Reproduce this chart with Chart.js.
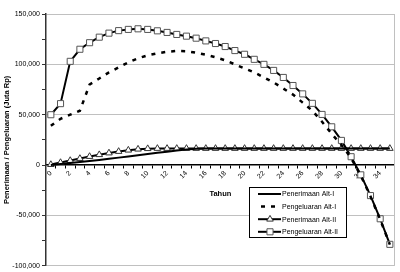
<!DOCTYPE html>
<html>
<head>
<meta charset="utf-8">
<script src="https://cdn.jsdelivr.net/npm/chart.js@4/dist/chart.umd.min.js"></script>
<style>
  html, body { margin: 0; padding: 0; background: #fff; }
  #wrap { width: 400px; height: 272px; }
</style>
</head>
<body>
<div id="wrap"><canvas id="chart"></canvas></div>
<script>
let years = ["0", "1", "2", "3", "4", "5", "6", "7", "8", "9", "10", "11",
    "12", "13", "14", "15", "16", "17", "18", "19", "20", "21", "22", "23",
    "24", "25", "26", "27", "28", "29", "30", "31", "32", "33", "34", "35"];

let penerimaanAlt1 = [0, 1000, 2000, 3000, 4000, 5000, 6200, 7400, 8600, 9800, 11000, 12200,
    13300, 14400, 15400, 16200, 16500, 16500, 16500, 16500, 16500, 16500, 16500, 16500,
    16500, 16500, 16500, 16500, 16500, 16500, 16500, 16500, 16500, 16500, 16500, 16500];

let pengeluaranAlt1 = [39000, 46000, 50000, 54000, 80000, 86000, 92000, 97000, 102000, 106000, 109000, 111000,
    112500, 113300, 113000, 111500, 109500, 107000, 104000, 100000, 96000, 92000, 87000, 82000,
    76000, 70000, 62000, 54000, 43000, 31000, 20000, 7000, -10500, -31000, -54000, -79000];

let penerimaanAlt2 = [500, 2500, 4500, 6500, 8500, 10300, 12000, 13500, 14800, 15800, 16300, 16500,
    16500, 16500, 16500, 16500, 16500, 16500, 16500, 16500, 16500, 16500, 16500, 16500,
    16500, 16500, 16500, 16500, 16500, 16500, 16500, 16500, 16500, 16500, 16500, 16500];

let pengeluaranAlt2 = [50000, 61000, 103000, 115000, 121500, 127000, 131000, 133500, 134700, 135300, 134700, 133300,
    131700, 129700, 128000, 126000, 123300, 120700, 117700, 113700, 110000, 105000, 100000, 94000,
    87000, 79000, 70700, 61300, 50300, 38000, 24500, 8300, -9700, -30300, -53300, -78700];

let seriesNames = ["Penerimaan Alt-I", "Pengeluaran Alt-I", "Penerimaan Alt-II", "Pengeluaran Alt-II"];

let fontFamily = "'Liberation Sans', Arial, sans-serif";

// legend box drawn inside the plot, like the original
let boxLegend = {
    id: "boxLegend",
    beforeDatasetsDraw(chart) {
        let ctx = chart.ctx;
        let area = chart.chartArea;
        ctx.save();
        ctx.strokeStyle = "#c0c0c0";
        ctx.lineWidth = 1;
        ctx.beginPath();
        ctx.moveTo(Math.round(area.right) - 0.5, area.top);
        ctx.lineTo(Math.round(area.right) - 0.5, area.bottom);
        ctx.stroke();
        ctx.restore();
    },
    afterDraw(chart) {
        let ctx = chart.ctx;
        ctx.save();
        ctx.fillStyle = "#fff";
        ctx.fillRect(249.5, 187.5, 97, 50);
        ctx.strokeStyle = "#000";
        ctx.lineWidth = 1;
        ctx.strokeRect(249.5, 187.5, 97, 50);
        chart.data.datasets.forEach((ds, i) => {
            let y = 194 + i * 12.6;
            ctx.strokeStyle = ds.borderColor;
            ctx.lineWidth = ds.borderWidth;
            ctx.setLineDash(ds.borderDash || []);
            ctx.beginPath();
            if (ds.borderDash) {
                ctx.moveTo(261, y);
                ctx.lineTo(278, y);
            } else {
                ctx.moveTo(258, y);
                ctx.lineTo(281, y);
            }
            ctx.stroke();
            ctx.setLineDash([]);
            if (ds.pointRadius > 0 && Chart.helpers && Chart.helpers.drawPoint) {
                ctx.fillStyle = ds.pointBackgroundColor;
                ctx.strokeStyle = ds.pointBorderColor;
                ctx.lineWidth = ds.pointBorderWidth;
                Chart.helpers.drawPoint(ctx, {
                    pointStyle: ds.pointStyle,
                    radius: ds.pointRadius,
                    borderWidth: ds.pointBorderWidth,
                    rotation: 0
                }, 270, y);
            }
            ctx.fillStyle = "#000";
            ctx.font = "7px " + fontFamily;
            ctx.textBaseline = "middle";
            ctx.textAlign = "left";
            ctx.fillText(ds.label, 282, y + 0.5);
        });
        ctx.restore();
    }
};

let ctx = document.getElementById("chart").getContext("2d");
let chart = new Chart(ctx, {
    type: "line",
    data: {
        labels: years,
        datasets: [{
            label: seriesNames[0],
            data: penerimaanAlt1,
            borderColor: "#000",
            borderWidth: 2,
            pointRadius: 0,
            tension: 0
        },
        {
            label: seriesNames[1],
            data: pengeluaranAlt1,
            borderColor: "#000",
            borderWidth: 2.5,
            borderDash: [4, 6],
            pointRadius: 0,
            tension: 0
        },
        {
            label: seriesNames[2],
            data: penerimaanAlt2,
            borderColor: "#000",
            borderWidth: 2,
            pointStyle: "triangle",
            pointRadius: 3.8,
            pointBackgroundColor: "#fff",
            pointBorderColor: "#333",
            pointBorderWidth: 1,
            tension: 0
        },
        {
            label: seriesNames[3],
            data: pengeluaranAlt2,
            borderColor: "#000",
            borderWidth: 2,
            pointStyle: "rect",
            pointRadius: 4.3,
            pointBackgroundColor: "#fff",
            pointBorderColor: "#555",
            pointBorderWidth: 1,
            tension: 0
        }]
    },
    options: {
        responsive: true,
        maintainAspectRatio: false,
        animation: false,
        devicePixelRatio: 1,
        layout: {
            padding: { top: 14, right: 3, bottom: -29, left: 0 }
        },
        plugins: {
            legend: { display: false },
            tooltip: { enabled: false }
        },
        scales: {
            x: {
                type: "category",
                position: { y: 0 },
                offset: true,
                afterFit: (scale) => { scale.height = 37; },
                ticks: {
                    autoSkip: false,
                    maxRotation: 45,
                    minRotation: 45,
                    padding: 1,
                    color: "#000",
                    font: { family: fontFamily, size: 7 },
                    callback: function (value, index) {
                        return index % 2 === 0 ? this.getLabelForValue(value) : "";
                    }
                },
                grid: {
                    offset: true,
                    drawOnChartArea: false,
                    tickLength: 3,
                    tickColor: "#000"
                },
                border: { color: "#000", width: 1.5 },
                title: {
                    display: true,
                    text: "Tahun",
                    color: "#000",
                    padding: { top: 2, bottom: 4 },
                    font: { family: fontFamily, size: 7.5, weight: "bold" }
                }
            },
            y: {
                min: -100000,
                max: 150000,
                afterFit: (scale) => { scale.width = 46; },
                ticks: {
                    stepSize: 25000,
                    autoSkip: false,
                    padding: 2,
                    color: "#000",
                    font: { family: fontFamily, size: 7 },
                    callback: (value) => value % 50000 === 0 ? value.toLocaleString("en-US") : ""
                },
                grid: {
                    color: (c) => (c.tick && c.tick.value % 50000 === 0 && c.tick.value !== 0) ? "#c0c0c0" : "rgba(0,0,0,0)",
                    tickColor: "#333",
                    tickLength: 4,
                    lineWidth: 1
                },
                border: { color: "#333", width: 1.5 },
                title: {
                    display: true,
                    text: "Penerimaan / Pengeluaran (Juta Rp)",
                    color: "#000",
                    padding: { top: 2, bottom: 0 },
                    font: { family: fontFamily, size: 7.5, weight: "bold" }
                }
            }
        }
    },
    plugins: [boxLegend]
});
</script>
</body>
</html>
